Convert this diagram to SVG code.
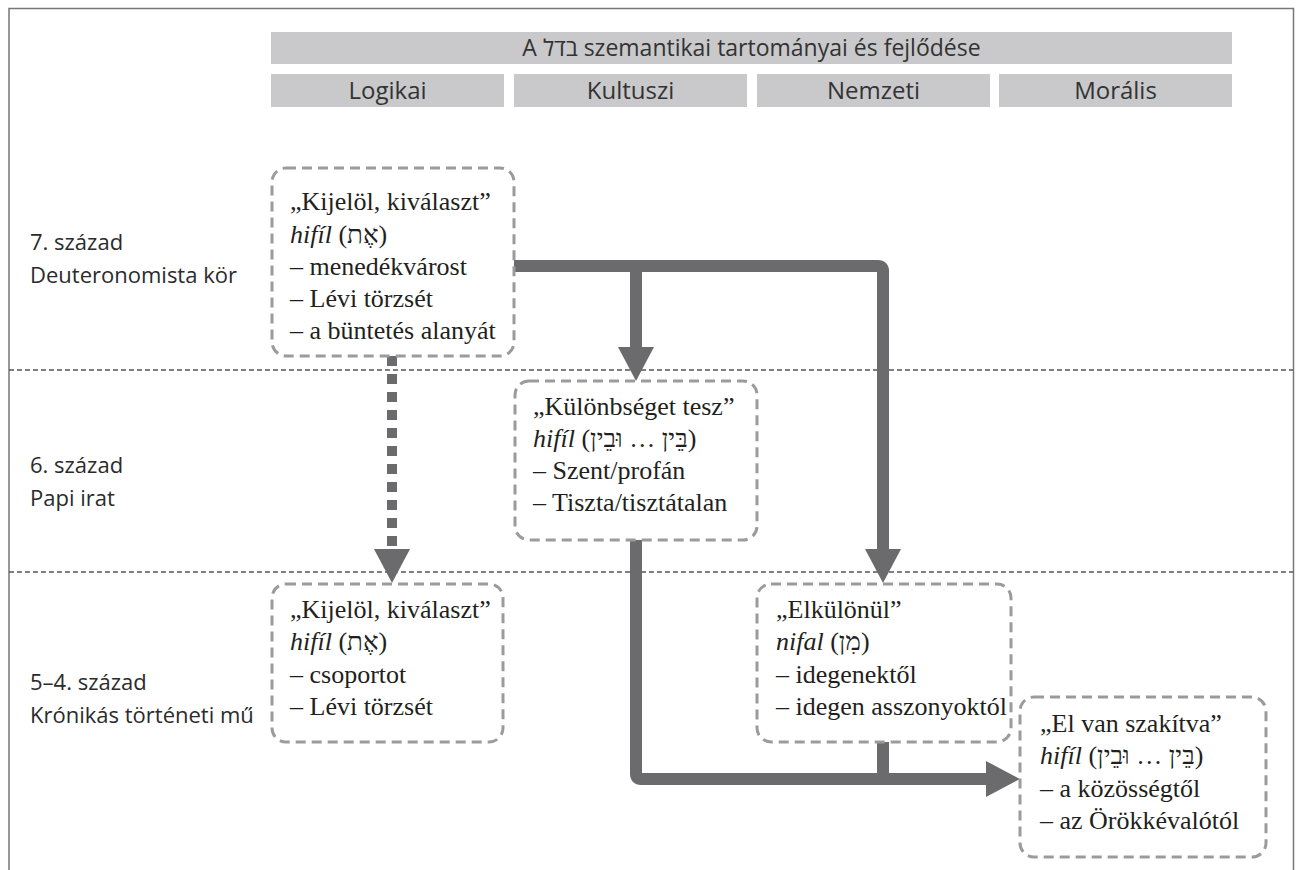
<svg xmlns="http://www.w3.org/2000/svg" width="1299" height="870" viewBox="0 0 1299 870">
<style>
.bar{fill:#c9c9cb}
.hd{font-family:"Open Sans","Liberation Sans","DejaVu Sans",sans-serif;font-size:24px;fill:#333;text-anchor:middle}
.hd0{font-size:23px}
.row{font-family:"Open Sans","Liberation Sans",sans-serif;font-size:22px;fill:#2b2b2b}
.box{fill:none;stroke:#9b9b9d;stroke-width:3;stroke-dasharray:10 6}
.bt{font-family:"Liberation Serif","DejaVu Serif",serif;font-size:26px;fill:#231f20}
.it{font-style:italic}
.sep{stroke:#555;stroke-width:1.5;stroke-dasharray:5 3;fill:none}
.con{fill:none;stroke:#6b6b6e;stroke-width:12;stroke-linejoin:round}
.dot{fill:none;stroke:#6b6b6e;stroke-width:10;stroke-dasharray:10 8}
</style>
<defs>
<marker id="ah" viewBox="0 0 34 36" refX="0" refY="18" markerWidth="34" markerHeight="36" markerUnits="userSpaceOnUse" orient="auto">
<path d="M0,0 L34,18 L0,36 Z" fill="#6b6b6e"/>
</marker>
</defs>
<rect x="0" y="0" width="1299" height="870" fill="#fff"/>
<path d="M9,870 V8.5 H1293.5 V870" fill="none" stroke="#777" stroke-width="1.5"/>

<g id="header">
<rect class="bar" x="271" y="32" width="961" height="32"/>
<text class="hd hd0" x="751.5" y="56">A בדל szemantikai tartományai és fejlődése</text>
</g>
<g id="col-logikai"><rect class="bar" x="271" y="74" width="233" height="33"/><text class="hd" x="387.5" y="99">Logikai</text></g>
<g id="col-kultuszi"><rect class="bar" x="514" y="74" width="233" height="33"/><text class="hd" x="630.5" y="99">Kultuszi</text></g>
<g id="col-nemzeti"><rect class="bar" x="757" y="74" width="233" height="33"/><text class="hd" x="873.5" y="99">Nemzeti</text></g>
<g id="col-moralis"><rect class="bar" x="999" y="74" width="233" height="33"/><text class="hd" x="1115.5" y="99">Morális</text></g>

<g id="separators">
<line class="sep" x1="9" y1="370" x2="1293" y2="370"/>
<line class="sep" x1="9" y1="572" x2="1293" y2="572"/>
</g>

<g id="row-7">
<text class="row" x="30" y="250">7. század</text>
<text class="row" x="30" y="283">Deuteronomista kör</text>
</g>
<g id="row-6">
<text class="row" x="30" y="473">6. század</text>
<text class="row" x="30" y="506">Papi irat</text>
</g>
<g id="row-5-4">
<text class="row" x="30" y="690">5–4. század</text>
<text class="row" x="30" y="723">Krónikás történeti mű</text>
</g>

<g id="connectors">
<path class="con" d="M514,266 H878 Q883,266 883,271 V549" marker-end="url(#ah)"/>
<path class="con" d="M636,266 V347" marker-end="url(#ah)"/>
<path class="dot" d="M392,356 V549" marker-end="url(#ah)"/>
<path class="con" d="M636,540 V774 Q636,779 641,779 H986" marker-end="url(#ah)"/>
<path class="con" d="M883,742 V779"/>
</g>

<g id="box-kijelol-7">
<rect class="box" x="272" y="168" width="242" height="188" rx="14"/>
<text class="bt" x="290" y="210">„Kijelöl, kiválaszt”</text>
<text class="bt" x="290" y="243"><tspan class="it">hifíl</tspan> (אֶת)</text>
<text class="bt" x="290" y="275">– menedékvárost</text>
<text class="bt" x="290" y="307">– Lévi törzsét</text>
<text class="bt" x="290" y="339">– a büntetés alanyát</text>
</g>

<g id="box-kulonbseg">
<rect class="box" x="515" y="381" width="242" height="159" rx="14"/>
<text class="bt" x="533" y="415">„Különbséget tesz”</text>
<text class="bt" x="533" y="447"><tspan class="it">hifíl</tspan> (בֵּין … וּבֵין)</text>
<text class="bt" x="533" y="479">– Szent/profán</text>
<text class="bt" x="533" y="511">– Tiszta/tisztátalan</text>
</g>

<g id="box-kijelol-5">
<rect class="box" x="272" y="584" width="231" height="158" rx="14"/>
<text class="bt" x="290" y="618">„Kijelöl, kiválaszt”</text>
<text class="bt" x="290" y="650"><tspan class="it">hifíl</tspan> (אֶת)</text>
<text class="bt" x="290" y="683">– csoportot</text>
<text class="bt" x="290" y="715">– Lévi törzsét</text>
</g>

<g id="box-elkulonul">
<rect class="box" x="757" y="584" width="254" height="158" rx="14"/>
<text class="bt" x="776" y="618">„Elkülönül”</text>
<text class="bt" x="776" y="650"><tspan class="it">nifal</tspan> (מִן)</text>
<text class="bt" x="776" y="683">– idegenektől</text>
<text class="bt" x="776" y="715">– idegen asszonyoktól</text>
</g>

<g id="box-elszakitva">
<rect class="box" x="1020" y="697" width="246" height="160" rx="14"/>
<text class="bt" x="1040" y="732">„El van szakítva”</text>
<text class="bt" x="1040" y="764"><tspan class="it">hifíl</tspan> (בֵּין … וּבֵין)</text>
<text class="bt" x="1040" y="797">– a közösségtől</text>
<text class="bt" x="1040" y="829">– az Örökkévalótól</text>
</g>
</svg>
